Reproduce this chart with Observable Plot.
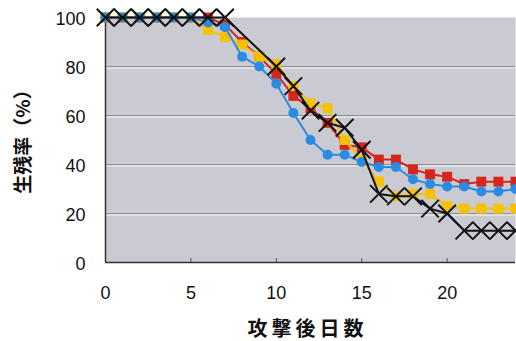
<!DOCTYPE html>
<html>
<head>
<meta charset="utf-8">
<script src="https://cdn.jsdelivr.net/npm/d3@7"></script>
<script src="https://cdn.jsdelivr.net/npm/@observablehq/plot@0.6"></script>
<style>
  html, body { margin: 0; padding: 0; background: #fff; }
  #chart svg { display: block; }
</style>
</head>
<body>
<div id="chart"></div>
<script>
const days = d3.range(0, 25);
const red    = [100,100,100,100,100,100,100,97,90,84,77,68,63,57,48,47,42,42,38,36,35,32,33,33,33];
const yellow = [100,100,100,100,100,100,95,92,89,84,81,72,65,63,50,42,33,27,28,28,23,22,22,22,22];
const blue   = [100,100,100,100,100,100,98,96,84,80,73,61,50,44,44,41,39,39,34,32,31,31,29,29,30];
const blackDays = [0,1,2,3,4,5,6,7,10,11,12,13,14,15,16,17,18,19,20,21,22,23,24];
const black     = [100,100,100,100,100,100,100,100,80,72,62,57,55,46,28,27,27,22,20,13,13,13,13];
const yTicks = [0, 20, 40, 60, 80, 100];
const xTicks = [0, 5, 10, 15, 20];
const gridValues = [20, 40, 60, 80];
const yTitle = "生残率（%）";
const xTitle = "攻撃後日数";

const toRows = (xs, ys) => xs.map((d, i) => ({day: d, v: ys[i]}));
const R = toRows(days, red), Y = toRows(days, yellow), B = toRows(days, blue), K = toRows(blackDays, black);

const cRed = "#d6261c", cYel = "#f6c200", cBlue = "#2a8be2", cBlk = "#111111";

const chart = Plot.plot({
  width: 516,
  height: 341,
  marginLeft: 105,
  marginRight: 1,
  marginTop: 17,
  marginBottom: 79,
  style: {background: "#ffffff", fontFamily: "'Liberation Sans', Arial, sans-serif", overflow: "visible"},
  x: {domain: [0, 24]},
  y: {domain: [0, 100]},
  marks: [
    Plot.frame({fill: "#c9cad2", stroke: null}),
    Plot.ruleY(gridValues, {stroke: "#f4f4f8", strokeWidth: 1, dy: 1.5}),
    Plot.ruleY(gridValues, {stroke: "#8d8d96", strokeWidth: 1.2}),
    Plot.ruleX(xTicks, {y1: 0, y2: 1.6, stroke: "#555", strokeWidth: 1}),
    Plot.ruleY([0], {stroke: "#333", strokeWidth: 1.5}),
    Plot.ruleX([0], {stroke: "#333", strokeWidth: 1.5}),
    Plot.axisY({ticks: yTicks, tickSize: 0, tickPadding: 20, fontSize: 18, dy: 2, label: null, fill: "#111"}),
    Plot.axisX({ticks: xTicks, tickSize: 0, tickPadding: 24, fontSize: 18, label: null, fill: "#111"}),
    Plot.line(R, {x: "day", y: "v", stroke: cRed, strokeWidth: 2}),
    Plot.dot(R, {x: "day", y: "v", symbol: "square", r: 5.6, fill: cRed}),
    Plot.line(Y, {x: "day", y: "v", stroke: cYel, strokeWidth: 2}),
    Plot.dot(Y, {x: "day", y: "v", symbol: "square", r: 5.6, fill: cYel}),
    Plot.line(B, {x: "day", y: "v", stroke: cBlue, strokeWidth: 2}),
    Plot.dot(B, {x: "day", y: "v", symbol: "circle", r: 5, fill: cBlue}),
    Plot.line(K, {x: "day", y: "v", stroke: cBlk, strokeWidth: 2}),
    Plot.dot(K, {x: "day", y: "v", symbol: "times", r: 8, stroke: cBlk, strokeWidth: 2}),
    Plot.text([yTitle], {frameAnchor: "left", textAnchor: "middle", lineAnchor: "middle", dx: -82, dy: -3, rotate: -90,
      fontSize: 19, fontWeight: "bold", fontFamily: "'Noto Sans CJK JP', sans-serif", fill: "#111"}),
    Plot.text([xTitle], {frameAnchor: "bottom", dy: 73, fontSize: 20, fontWeight: "bold",
      fontFamily: "'Noto Sans CJK JP', sans-serif", fill: "#111", dx: -3})
  ]
});
document.getElementById("chart").appendChild(chart);
d3.select(chart).selectAll("text").filter(function(){ return this.textContent === xTitle; })
  .style("letter-spacing", "4px");
</script>
</body>
</html>
